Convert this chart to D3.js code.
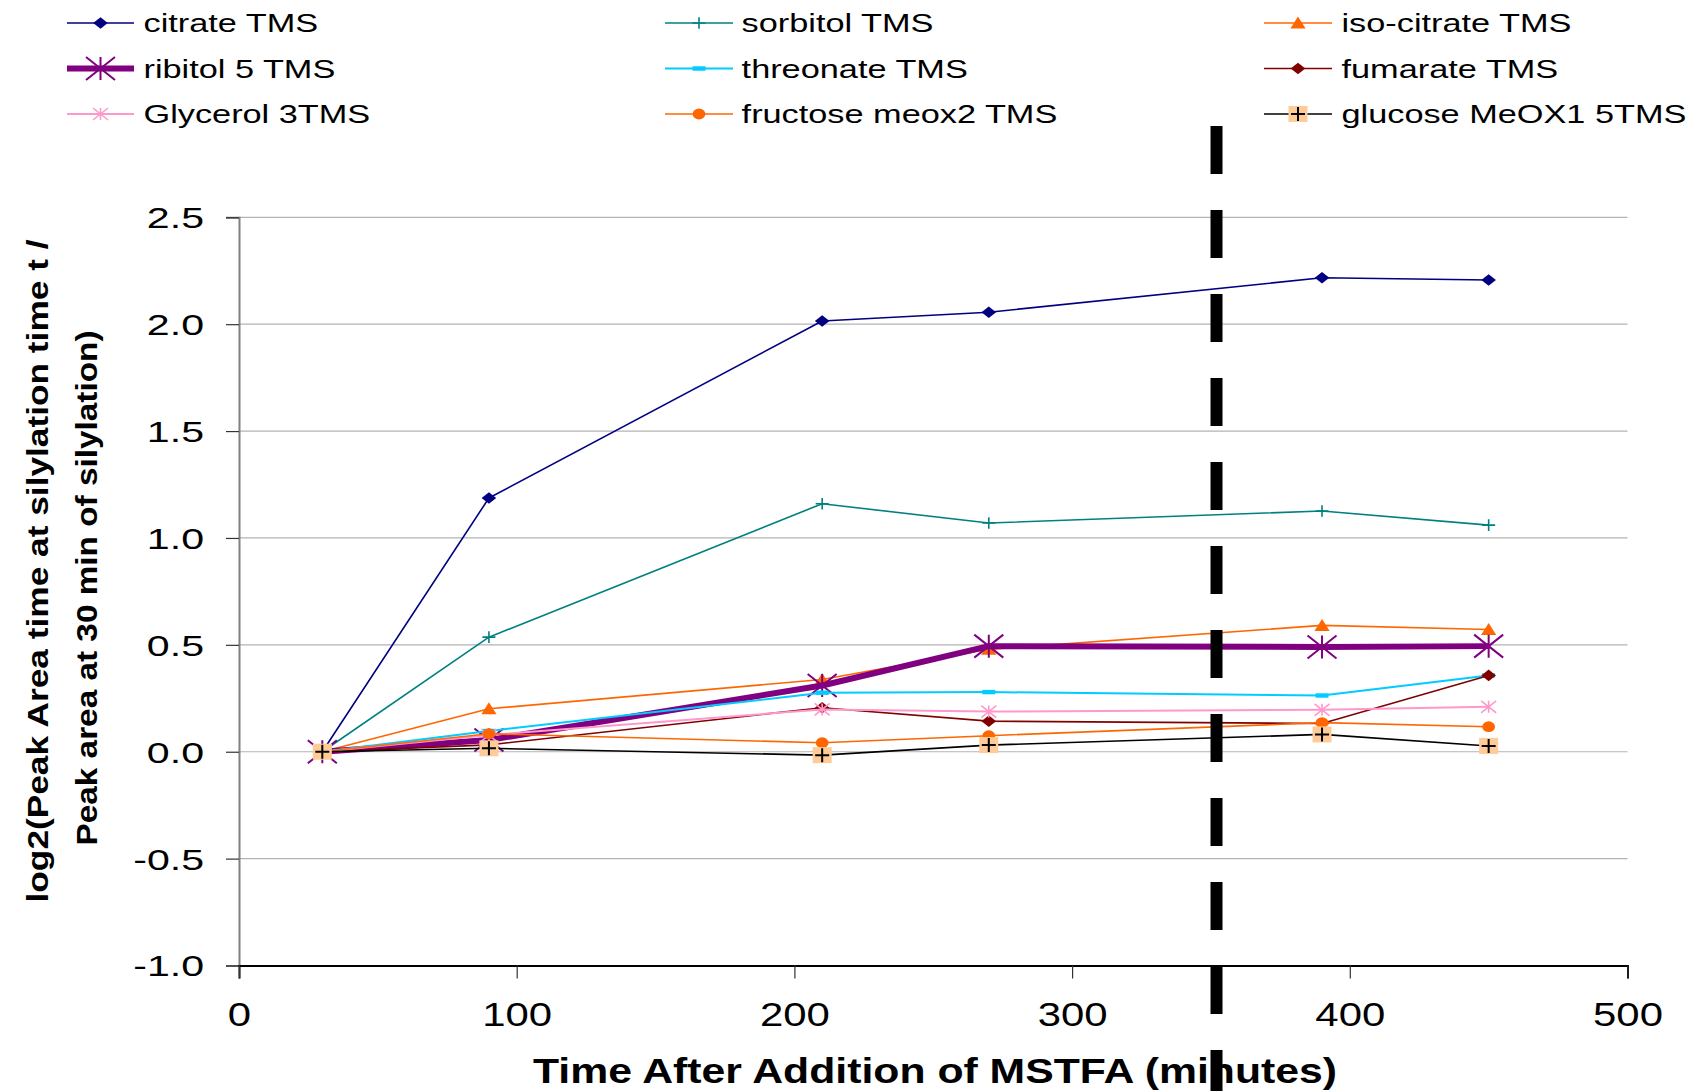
<!DOCTYPE html>
<html>
<head>
<meta charset="utf-8">
<script src="https://cdn.jsdelivr.net/npm/d3@7/dist/d3.min.js"></script>
<style>
  html, body { margin: 0; padding: 0; background: #ffffff; }
  svg { display: block; }
  text { font-family: Arial, "Liberation Sans", sans-serif; fill: #000; }
</style>
</head>
<body>
<svg id="chart" width="1695" height="1091"></svg>
<script>
// ---------------- data ----------------
const times = [30, 90, 210, 270, 390, 450];
const citrate    = [0, 1.187, 2.015, 2.056, 2.217, 2.207];
const sorbitol   = [0, 0.536, 1.160, 1.070, 1.126, 1.060];
const isoCitrate = [0, 0.201, 0.338, 0.479, 0.591, 0.572];
const ribitol    = [0, 0.055, 0.310, 0.494, 0.490, 0.494];
const threonate  = [0, 0.097, 0.276, 0.279, 0.263, 0.357];
const fumarate   = [0, 0.032, 0.206, 0.143, 0.132, 0.357];
const glycerol   = [0, 0.078, 0.198, 0.188, 0.196, 0.210];
const fructose   = [0, 0.084, 0.042, 0.075, 0.136, 0.117];
const glucose    = [0, 0.016, -0.016, 0.031, 0.081, 0.027];

const seriesNames = ["citrate TMS", "sorbitol TMS", "iso-citrate TMS",
                     "ribitol 5 TMS", "threonate TMS", "fumarate TMS",
                     "Glycerol 3TMS", "fructose meox2 TMS", "glucose MeOX1 5TMS"];
const seriesValues = [citrate, sorbitol, isoCitrate, ribitol, threonate,
                      fumarate, glycerol, fructose, glucose];

const xTickValues = [0, 100, 200, 300, 400, 500];
const xTickLabels = ["0", "100", "200", "300", "400", "500"];
const yTickValues = [-1.0, -0.5, 0.0, 0.5, 1.0, 1.5, 2.0, 2.5];
const yTickLabels = ["-1.0", "-0.5", "0.0", "0.5", "1.0", "1.5", "2.0", "2.5"];
const cutoffMinutes = [352];

const xTitle = "Time After Addition of MSTFA (minutes)";
const yTitleLines = ["log2(Peak Area time at silylation time t /",
                     "Peak area at 30 min of silylation)"];

// ---------------- styles ----------------
const styles = [
  {color: "#000080", width: 1.6, marker: "diamond"},
  {color: "#008080", width: 1.6, marker: "plus"},
  {color: "#FF6600", width: 1.6, marker: "triangle"},
  {color: "#800080", width: 6,   marker: "bigstar"},
  {color: "#00CCFF", width: 2,   marker: "dash"},
  {color: "#800000", width: 1.6, marker: "diamond"},
  {color: "#FF99CC", width: 2,   marker: "star"},
  {color: "#FF6600", width: 1.6, marker: "circle"},
  {color: "#000000", width: 1.6, marker: "square"}
];

const svg = d3.select("#chart");
const x = d3.scaleLinear().domain([0, 500]).range([239, 1627.5]);
const y = d3.scaleLinear().domain([-1, 2.5]).range([965.5, 217.3]);

// gridlines
svg.append("g").selectAll("line").data(yTickValues.filter(v => v > -1))
  .join("line")
  .attr("x1", x(0)).attr("x2", x(500))
  .attr("y1", d => y(d)).attr("y2", d => y(d))
  .attr("stroke", "#b3b3b3").attr("stroke-width", 1.2);

// y axis
const yAxis = d3.axisLeft(y).tickValues(yTickValues).tickSize(13)
  .tickFormat((d, i) => yTickLabels[i]);
const gy = svg.append("g").attr("transform", `translate(${x(0)},0)`).call(yAxis);
gy.select(".domain").attr("stroke", "#808080").attr("stroke-width", 2);
gy.selectAll(".tick line").attr("stroke", "#333").attr("stroke-width", 1.2);
gy.selectAll(".tick text")
  .attr("x", null).attr("dy", null)
  .attr("font-size", 30)
  .attr("text-anchor", "end")
  .attr("dominant-baseline", "central")
  .attr("transform", "translate(-35,0) scale(1.37,1)");

// x axis
const xAxis = d3.axisBottom(x).tickValues(xTickValues).tickSize(13)
  .tickFormat((d, i) => xTickLabels[i]);
const gx = svg.append("g").attr("transform", `translate(0,${y(-1)})`).call(xAxis);
gx.select(".domain").attr("stroke", "#000").attr("stroke-width", 2);
gx.selectAll(".tick line").attr("stroke", "#333").attr("stroke-width", 1.2);
gx.selectAll(".tick text")
  .attr("y", null).attr("dy", null)
  .attr("font-size", 33)
  .attr("text-anchor", "middle")
  .attr("transform", "translate(0,60) scale(1.27,1)");
svg.selectAll(".domain").attr("fill", "none");

// marker generator
function drawMarker(g, type, color, cx, cy) {
  const m = g.append("g").attr("transform", `translate(${cx},${cy})`);
  if (type === "diamond") {
    m.append("path").attr("d", "M0,-5.8L7.3,0L0,5.8L-7.3,0Z").attr("fill", color);
  } else if (type === "plus") {
    m.append("path").attr("d", "M-6.5,0H6.5M0,-5.8V5.8").attr("stroke", color).attr("stroke-width", 1.6);
  } else if (type === "triangle") {
    m.append("path").attr("d", "M0,-6.5L7.6,5.5L-7.6,5.5Z").attr("fill", color);
  } else if (type === "bigstar") {
    m.append("path").attr("d", "M0,-11.5V11.5M-14.5,-11.5L14.5,11.5M-14.5,11.5L14.5,-11.5")
      .attr("stroke", color).attr("stroke-width", 2);
  } else if (type === "star") {
    m.append("path").attr("d", "M0,-6V6M-7.5,-6L7.5,6M-7.5,6L7.5,-6")
      .attr("stroke", color).attr("stroke-width", 1.6);
  } else if (type === "dash") {
    m.append("rect").attr("x", -6.5).attr("y", -2.2).attr("width", 13).attr("height", 4.4).attr("fill", color);
  } else if (type === "circle") {
    m.append("ellipse").attr("rx", 6.4).attr("ry", 5.4).attr("fill", color);
  } else if (type === "square") {
    m.append("rect").attr("x", -9.5).attr("y", -8).attr("width", 19).attr("height", 16).attr("fill", "#FFCC99");
    m.append("path").attr("d", "M-7,0H7M0,-7V7").attr("stroke", "#000").attr("stroke-width", 2);
  }
}

// series
const line = d3.line().x(d => x(d[0])).y(d => y(d[1]));
const gs = svg.append("g");
seriesValues.forEach((vals, i) => {
  const pts = times.map((t, j) => [t, vals[j]]);
  const s = styles[i];
  const g = gs.append("g");
  g.append("path").attr("d", line(pts)).attr("fill", "none")
    .attr("stroke", s.color).attr("stroke-width", s.width).attr("stroke-linejoin", "round");
  pts.forEach(p => drawMarker(g, s.marker, s.color, x(p[0]), y(p[1])));
});

// legend
const legendCols = [{x1: 67, x2: 134, tx: 143.5}, {x1: 665, x2: 733, tx: 741.6}, {x1: 1264, x2: 1332, tx: 1341.5}];
const legendRows = [23, 68.5, 114];
const lg = svg.append("g");
seriesNames.forEach((name, i) => {
  const c = legendCols[i % 3], r = legendRows[Math.floor(i / 3)];
  const s = styles[i];
  lg.append("line").attr("x1", c.x1).attr("x2", c.x2).attr("y1", r).attr("y2", r)
    .attr("stroke", s.color).attr("stroke-width", s.width);
  drawMarker(lg, s.marker, s.color, (c.x1 + c.x2) / 2, r);
  lg.append("text").attr("font-size", 25.6)
    .attr("transform", `translate(${c.tx},${r + 9}) scale(1.34,1)`)
    .text(name);
});

// axis titles
svg.append("text")
  .attr("x", 935).attr("y", 1083)
  .attr("text-anchor", "middle").attr("font-weight", "bold").attr("font-size", 35)
  .attr("textLength", 804).attr("lengthAdjust", "spacingAndGlyphs")
  .text(xTitle);

const yTitlePos = [{cx: 48, cy: 571, len: 663}, {cx: 97, cy: 588, len: 515}];
yTitleLines.forEach((t, i) => {
  const p = yTitlePos[i];
  svg.append("text")
    .attr("transform", `translate(${p.cx},${p.cy}) rotate(-90)`)
    .attr("text-anchor", "middle").attr("font-weight", "bold").attr("font-size", 29)
    .attr("textLength", p.len).attr("lengthAdjust", "spacingAndGlyphs")
    .text(t);
});

// dashed cutoff line
svg.selectAll(".cutoff").data(cutoffMinutes).join("line")
  .attr("class", "cutoff")
  .attr("x1", d => x(d)).attr("x2", d => x(d))
  .attr("y1", 126).attr("y2", 1100)
  .attr("stroke", "#000").attr("stroke-width", 12)
  .attr("stroke-dasharray", "48 36");
</script>
</body>
</html>
